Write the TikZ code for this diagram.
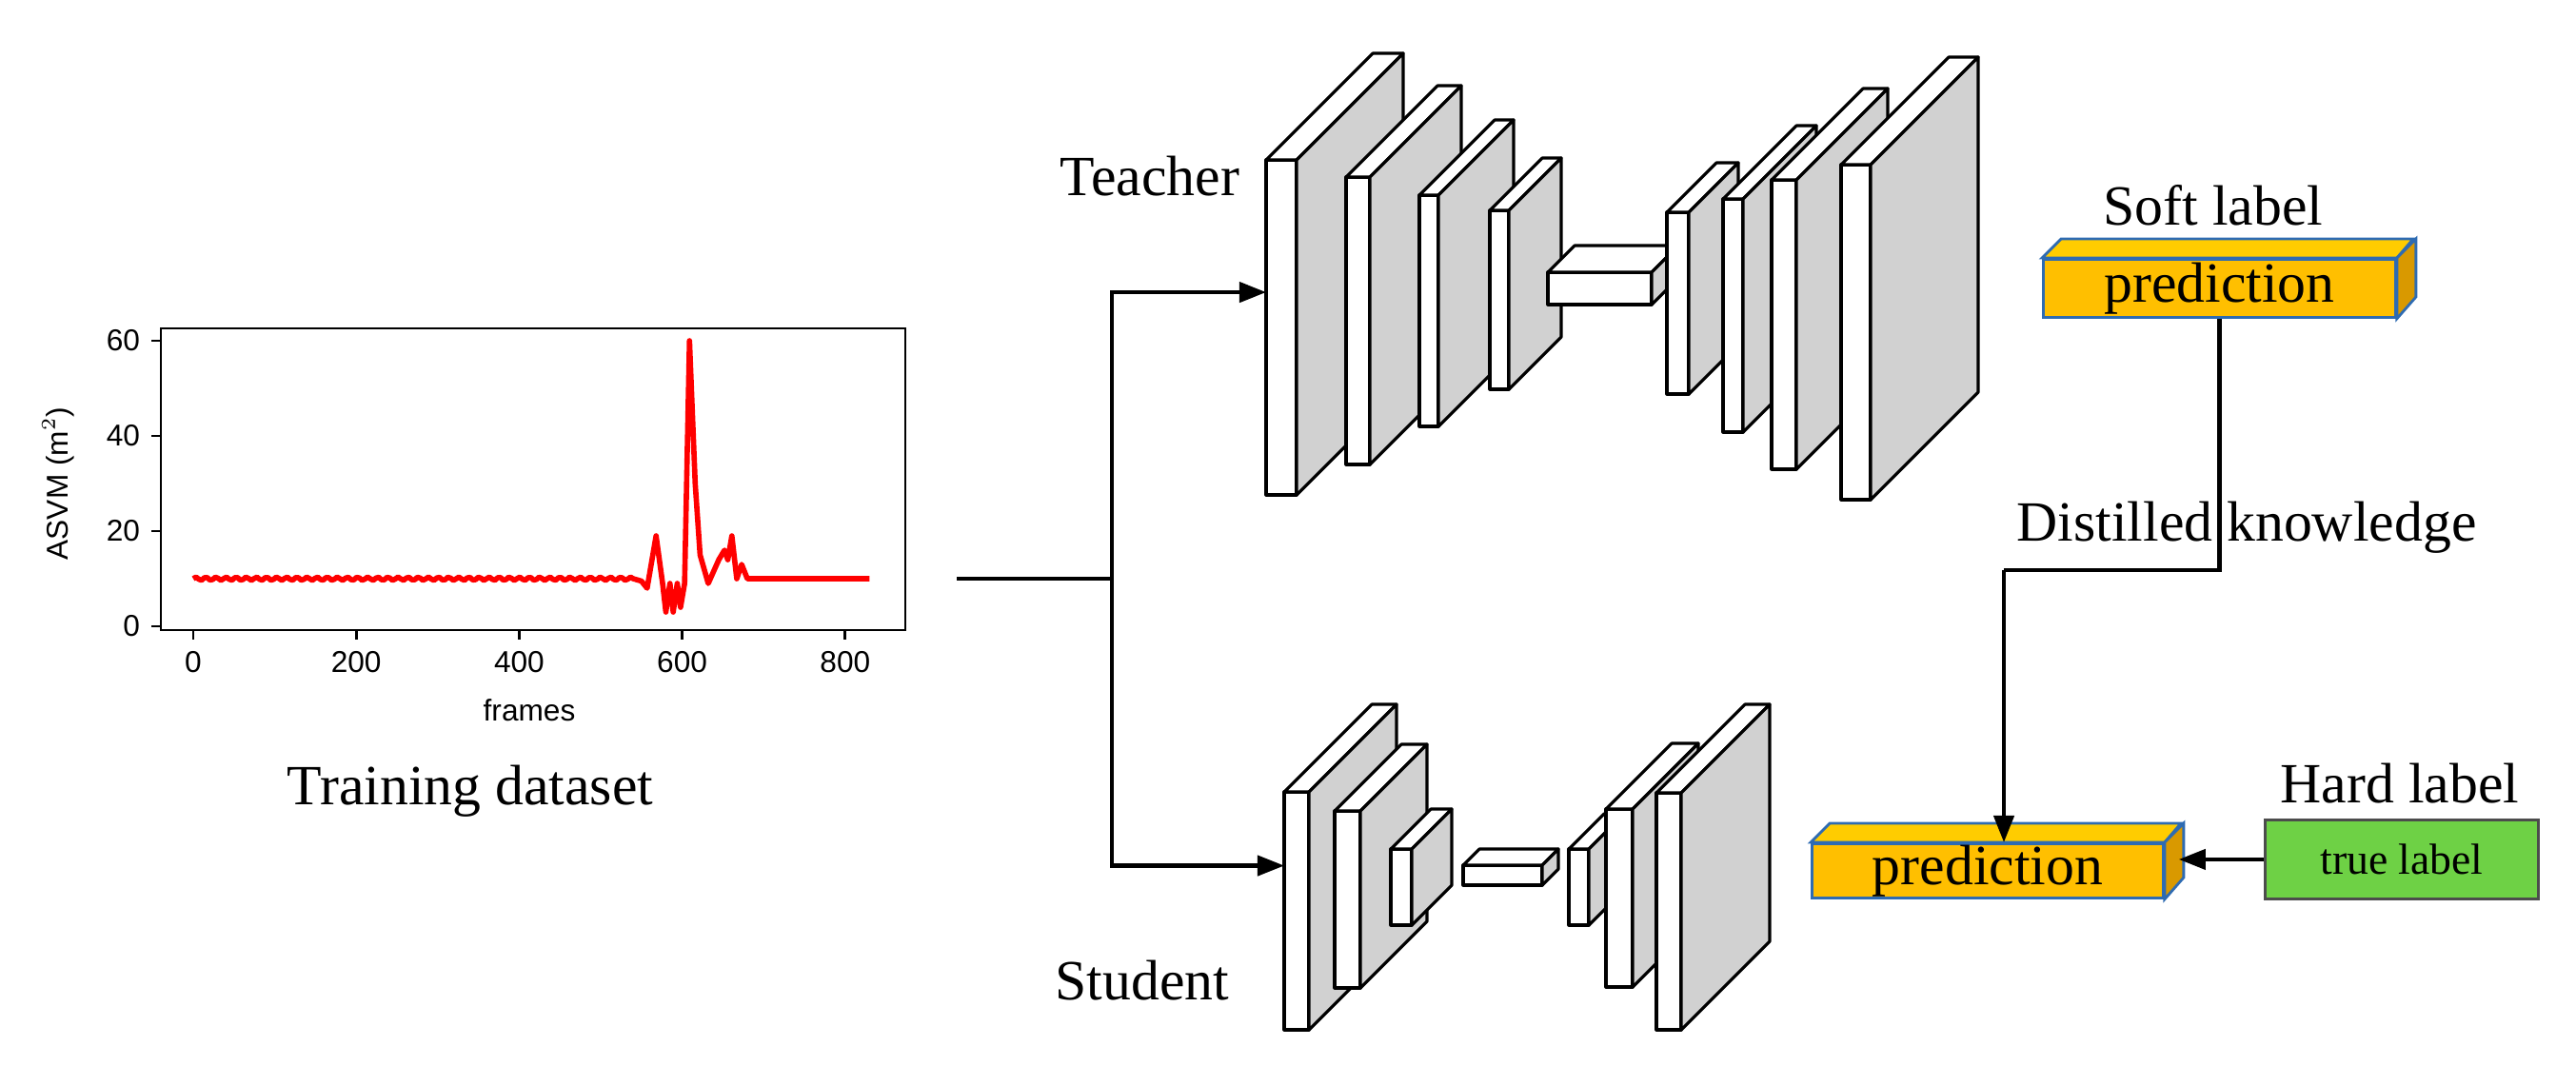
\documentclass[tikz,border=0pt]{standalone}
\usepackage{fontspec}
\setmainfont{Liberation Serif}
\newfontfamily\plotfont{Liberation Sans}
\usetikzlibrary{arrows.meta, positioning, calc}
\definecolor{layergray}{rgb}{0.82, 0.82, 0.82}
\definecolor{predfront}{rgb}{1.0, 0.75, 0.0}
\definecolor{predtop}{rgb}{1.0, 0.80, 0.0}
\definecolor{predside}{rgb}{0.85, 0.60, 0.0}
\definecolor{predline}{rgb}{0.18, 0.42, 0.70}
\definecolor{truegreen}{rgb}{0.43, 0.82, 0.27}

\tikzset{
  slab edge/.style = {draw, line width=0.9pt, line join=round},
  slab front/.style = {slab edge, fill=white, inner sep=0pt, outer sep=0pt},
  pred edge/.style = {draw=predline, line width=0.8pt},
  label text/.style = {font=\fontsize{17}{17}\selectfont, inner sep=0pt},
  link/.style = {line width=1.2pt},
  tip/.style = {-{Triangle[length=8pt, width=6pt]}}
}

% name, x, y(top), width, height, depth
\newcommand\slab[6]{%
  \node[slab front, minimum width=#4cm, minimum height=#5cm, anchor=north west] (#1) at (#2,#3) {};
  \draw[slab edge, fill=white] (#1.north west) -- ++(#6,-#6) -- ++(#4,0) -- (#1.north east) -- cycle;
  \draw[slab edge, fill=layergray] (#1.north east) -- ++(#6,-#6) -- ++(0,#5) -- (#1.south east) -- cycle;
}
% name, x, y(top), width, height, depth
\newcommand\predbox[6]{%
  \node[pred edge, fill=predfront, minimum width=#4cm, minimum height=#5cm, anchor=north west,
        inner sep=0pt, font=\fontsize{17}{17}\selectfont] (#1) at (#2,#3) {prediction};
  \draw[pred edge, fill=predtop] (#1.north west) -- ++(#6,-#6) -- ++(#4,0) -- (#1.north east) -- cycle;
  \draw[pred edge, fill=predside] (#1.north east) -- ++(#6,-#6) -- ++(0,#5) -- (#1.south east) -- cycle;
}

\begin{document}
\begin{tikzpicture}[x=1cm, y=-1cm]
\useasboundingbox (0,0) rectangle (27.06,11.19);

% training data plot
\begin{scope}[plotfont/.style={font=\plotfont\fontsize{9}{9}\selectfont}]
\draw[line width=0.8pt] (1.69,3.45) rectangle (9.51,6.62);
\foreach \f in {0,200,...,800}
  \draw[line width=0.8pt] ({2.03+\f*0.00856},6.62) -- ++(0,0.1)
    node[below=3pt, plotfont, inner sep=0pt] {\f};
\foreach \v in {0,20,...,60}
  \draw[line width=0.8pt] (1.69,{6.58-\v*0.05}) -- ++(-0.1,0)
    node[left=3pt, plotfont, inner sep=0pt] {\v};
\node[plotfont, rotate=90] (ylab) at (0.61,5.08) {ASVM (m$^2$)};
\node[plotfont] (xlab) at (5.56,7.46) {frames};
\begin{scope}[shift={(2.03,6.58)}, x=0.00856cm, y=0.05cm]
\draw[red, line width=1.6pt, line join=round]
  plot[domain=0:540, samples=160] (\x, {10+0.35*sin(\x*29)})
  -- (550,9.5) -- (557,8) -- (568,19) -- (576,9) -- (580,3) -- (585,9) -- (589,3)
  -- (594,9) -- (598,4) -- (603,9) -- (609,60) -- (616,30) -- (622,15) -- (632,9)
  -- (645,14) -- (652,16) -- (656,14) -- (661,19) -- (667,10) -- (673,13)
  -- (680,10) -- (700,10) -- (830,10);
\end{scope}
\end{scope}
\node[label text] (train) at (4.94,8.31) {Training dataset};

% teacher network
\slab{t1}{13.30}{1.68}{0.32}{3.52}{1.12}
\slab{t2}{14.14}{1.86}{0.25}{3.02}{0.96}
\slab{t3}{14.91}{2.05}{0.20}{2.43}{0.79}
\slab{t4}{15.65}{2.21}{0.20}{1.88}{0.55}
\slab{tb}{16.26}{2.86}{1.09}{0.34}{0.28}
\slab{t5}{17.51}{2.23}{0.23}{1.91}{0.52}
\slab{t6}{18.10}{2.09}{0.21}{2.45}{0.77}
\slab{t7}{18.61}{1.89}{0.26}{3.04}{0.96}
\slab{t8}{19.34}{1.73}{0.31}{3.52}{1.13}
\node[label text] (teacher) at (12.08,1.85) {Teacher};

% student network
\slab{s1}{13.49}{8.32}{0.26}{2.50}{0.92}
\slab{s2}{14.02}{8.52}{0.27}{1.86}{0.70}
\slab{s3}{14.61}{8.92}{0.22}{0.80}{0.42}
\slab{sb}{15.37}{9.09}{0.83}{0.21}{0.17}
\slab{s4}{16.48}{8.92}{0.21}{0.80}{0.37}
\slab{s5}{16.87}{8.50}{0.28}{1.87}{0.69}
\slab{s6}{17.40}{8.33}{0.26}{2.49}{0.93}
\node[label text] (student) at (12.00,10.30) {Student};

% outputs
\predbox{soft}{21.45}{2.71}{3.70}{0.61}{0.20}
\predbox{pred}{19.02}{8.85}{3.69}{0.57}{0.20}
\node[draw=black!70, line width=0.8pt, fill=truegreen, minimum width=2.87cm, minimum height=0.83cm,
      anchor=north west, inner sep=0pt, font=\fontsize{13}{13}\selectfont] (true) at (23.78,8.60) {true label};
\node[label text] (softlab) at (23.25,2.16) {Soft label};
\node[label text] (hardlab) at (25.21,8.23) {Hard label};
\node[label text] (distill) at (23.60,5.54) {Distilled knowledge};

% connectors
\coordinate (in) at (10.05,6.08);
\coordinate (split) at (11.68,6.08);
\coordinate (knee) at (21.05,5.99);
\draw[link] (in) -- (split);
\draw[link, tip] (split) |- ($(t1.north west)!0.395!(t1.south west)$);
\draw[link, tip] (split) |- ($(s1.north west)!0.31!(s1.south west)$);
\draw[link] (soft.south) |- (knee);
\draw[link, tip] (knee) -- (knee |- pred.north);
\draw[link, tip] (true.west) -- ($(true.west -| pred.east)+(0.15,0)$);
\end{tikzpicture}
\end{document}
